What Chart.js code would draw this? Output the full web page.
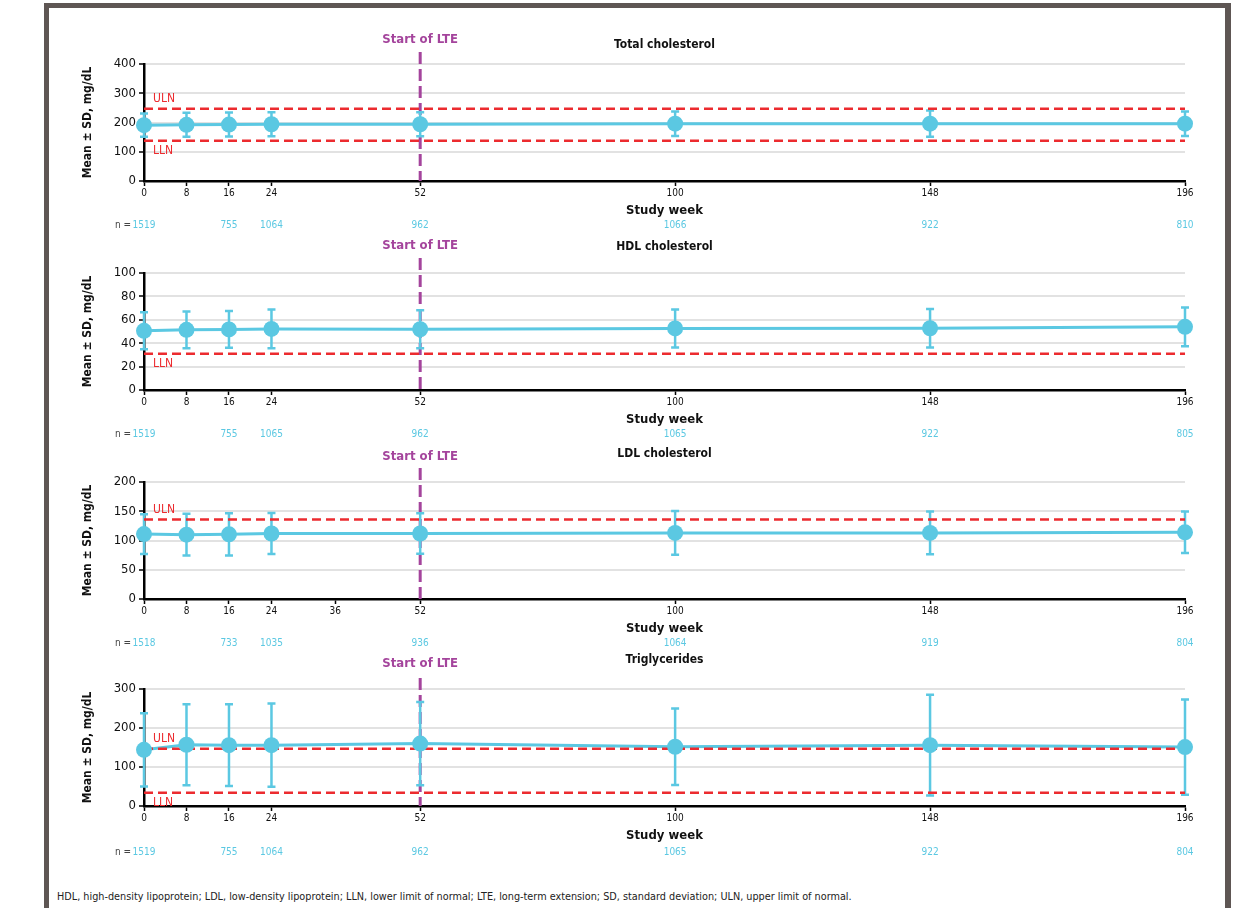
<!DOCTYPE html>
<html>
<head>
<meta charset="utf-8">
<script src="https://cdn.jsdelivr.net/npm/chart.js@4"></script>
<style>
  body { margin: 0; background: #fff; font-family: "DejaVu Sans Condensed", "DejaVu Sans", sans-serif; }
  #frame { position: absolute; left: 44px; top: 3px; width: 1176px; height: 930px;
           border-top: 5px solid #5e5654; border-left: 5px solid #5e5654; border-right: 6px solid #5e5654; }
  canvas { position: absolute; }
  #foot { position: absolute; left: 57px; top: 891px; font-family: "DejaVu Sans", sans-serif; font-size: 9.7px; color: #222; white-space: nowrap; }
</style>
</head>
<body>
<div id="frame"></div>
<canvas id="tcChart" style="left:50px;top:24px"></canvas>
<canvas id="hdlChart" style="left:50px;top:233px"></canvas>
<canvas id="ldlChart" style="left:50px;top:442px"></canvas>
<canvas id="tgChart" style="left:50px;top:649px"></canvas>
<div id="foot">HDL, high-density lipoprotein; LDL, low-density lipoprotein; LLN, lower limit of normal; LTE, long-term extension; SD, standard deviation; ULN, upper limit of normal.</div>
<script>
// study weeks (same for every panel)
const weeks = [0, 8, 16, 24, 52, 100, 148, 196];
const lteWeek = 52;
const weekTicks = [0, 8, 16, 24, 52, 100, 148, 196];
const ldlWeekTicks = [0, 8, 16, 24, 36, 52, 100, 148, 196];

// total cholesterol
const tcMean = [191, 192, 193, 194, 194, 196, 196, 196];
const tcSd = [40, 41, 41, 41, 41, 42, 45, 42];
const tcN = [1519, null, 755, 1064, 962, 1066, 922, 810];
const tcUln = 247, tcLln = 138;

// HDL cholesterol
const hdlMean = [50.6, 51.4, 51.8, 52.2, 51.9, 52.6, 52.8, 54.0];
const hdlSd = [15.8, 15.8, 15.7, 16.5, 16.2, 16.3, 16.4, 16.5];
const hdlN = [1519, null, 755, 1065, 962, 1065, 922, 805];
const hdlLln = 31;

// LDL cholesterol
const ldlMean = [111, 110, 110.5, 112, 112, 113, 113, 114];
const ldlSd = [34, 35.6, 36, 35, 34.5, 37.3, 36.5, 35.4];
const ldlN = [1518, null, 733, 1035, 936, 1064, 919, 804];
const ldlUln = 136;

// triglycerides
const tgMean = [144, 157, 156, 156, 160, 152, 156, 151];
const tgSd = [94, 104, 105, 106.6, 106.5, 98, 129, 122];
const tgN = [1519, null, 755, 1064, 962, 1065, 922, 804];
const tgUln = 147, tgLln = 34;

const CYAN = '#5bc8e2';
const RED = '#ec2b2f';
const PURPLE = '#a4449c';
const FONT = '"DejaVu Sans Condensed", "DejaVu Sans", sans-serif';

// 绘制误差线、LTE 竖线及各类文字
function makeDecor(cfg) {
    return {
        id: 'decor',
        beforeDatasetsDraw(chart) {
            const { ctx, chartArea, scales: { x, y } } = chart;
            const lx = x.getPixelForValue(lteWeek);
            ctx.save();
            ctx.strokeStyle = PURPLE;
            ctx.lineWidth = 3;
            ctx.setLineDash([12, 5]);
            ctx.beginPath();
            ctx.moveTo(lx, chartArea.top - cfg.lineTop);
            ctx.lineTo(lx, chartArea.bottom);
            ctx.stroke();

            ctx.setLineDash([]);
            ctx.strokeStyle = CYAN;
            ctx.lineWidth = 2.5;
            weeks.forEach((w, i) => {
                const px = x.getPixelForValue(w);
                const top = y.getPixelForValue(cfg.mean[i] + cfg.sd[i]);
                const bot = y.getPixelForValue(cfg.mean[i] - cfg.sd[i]);
                ctx.beginPath();
                ctx.moveTo(px, top); ctx.lineTo(px, bot);
                ctx.moveTo(px - 4, top); ctx.lineTo(px + 4, top);
                ctx.moveTo(px - 4, bot); ctx.lineTo(px + 4, bot);
                ctx.stroke();
            });
            ctx.restore();
        },
        afterDraw(chart) {
            const { ctx, chartArea, scales: { x, y } } = chart;
            const cx = (chartArea.left + chartArea.right) / 2;
            ctx.save();
            ctx.textBaseline = 'middle';
            ctx.textAlign = 'center';

            // 标题
            ctx.fillStyle = '#111';
            ctx.font = 'bold 12px ' + FONT;
            ctx.fillText(cfg.title, cx, chartArea.top - cfg.titleDy);
            ctx.fillStyle = PURPLE;
            ctx.font = 'bold 13px ' + FONT;
            ctx.fillText('Start of LTE', x.getPixelForValue(lteWeek), chartArea.top - cfg.lteDy);

            // x 轴标题
            ctx.fillStyle = '#111';
            ctx.font = 'bold 13px ' + FONT;
            ctx.fillText('Study week', cx, chartArea.bottom + 30);

            // y 轴标题
            ctx.save();
            ctx.translate(chartArea.left - 56, (chartArea.top + chartArea.bottom) / 2);
            ctx.rotate(-Math.PI / 2);
            ctx.font = 'bold 12px ' + FONT;
            ctx.fillText('Mean ± SD, mg/dL', 0, 0);
            ctx.restore();

            // n 行
            const ny = chartArea.bottom + cfg.nDy;
            ctx.font = '10px ' + FONT;
            ctx.textAlign = 'right';
            ctx.fillStyle = '#444';
            ctx.fillText('n =', chartArea.left - 13, ny);
            ctx.textAlign = 'center';
            ctx.fillStyle = CYAN;
            weeks.forEach((w, i) => {
                if (cfg.n[i] !== null) ctx.fillText(String(cfg.n[i]), x.getPixelForValue(w), ny);
            });

            // ULN / LLN 标签
            ctx.font = '12px ' + FONT;
            ctx.fillStyle = RED;
            ctx.textAlign = 'left';
            if (cfg.uln !== null) ctx.fillText('ULN', chartArea.left + 9, y.getPixelForValue(cfg.uln) - 10);
            if (cfg.lln !== null) ctx.fillText('LLN', chartArea.left + 9, y.getPixelForValue(cfg.lln) + 10);
            ctx.restore();
        }
    };
}

function limitLine(value) {
    return {
        data: [{ x: 0, y: value }, { x: 196, y: value }],
        borderColor: RED,
        borderWidth: 2.5,
        borderDash: [9, 5],
        pointRadius: 0,
        clip: false,
        order: 2
    };
}

function makePanel(id, cfg) {
    const canvas = document.getElementById(id);
    canvas.width = 1170;
    canvas.height = 225;
    canvas.style.width = '1170px';
    canvas.style.height = '225px';
    const pts = weeks.map((w, i) => ({ x: w, y: cfg.mean[i] }));
    const datasets = [
        { data: pts, showLine: false, pointRadius: 8, pointHoverRadius: 8, pointBackgroundColor: CYAN, pointBorderWidth: 0, clip: false, order: 1 },
        { data: pts, borderColor: CYAN, borderWidth: 3, pointRadius: 0, clip: false, order: 3 }
    ];
    if (cfg.uln !== null) datasets.push(limitLine(cfg.uln));
    if (cfg.lln !== null) datasets.push(limitLine(cfg.lln));

    return new Chart(canvas, {
        type: 'line',
        data: { datasets },
        options: {
            responsive: false,
            animation: false,
            layout: { padding: { top: 40, right: 35, bottom: 48, left: 0 } },
            plugins: { legend: { display: false }, tooltip: { enabled: false } },
            scales: {
                x: {
                    type: 'linear', min: 0, max: 196,
                    afterBuildTicks: axis => { axis.ticks = cfg.ticks.map(v => ({ value: v })); },
                    afterFit: axis => { axis.height = 20; },
                    ticks: { autoSkip: false, maxRotation: 0, padding: 1, color: '#111', font: { size: 10, family: FONT } },
                    grid: { drawOnChartArea: false, tickLength: 5, tickColor: '#000', tickWidth: 1.5 },
                    border: { color: '#000', width: 2.5 }
                },
                y: {
                    min: 0, max: cfg.max,
                    afterFit: axis => { axis.width = 94; },
                    ticks: { stepSize: cfg.step, padding: 3, color: '#111', font: { size: 13, family: FONT } },
                    grid: { color: '#e2e2e2', lineWidth: 2, tickLength: 5, tickColor: '#000', tickWidth: 1.5 },
                    border: { color: '#000', width: 2.5 }
                }
            }
        },
        plugins: [makeDecor(cfg)]
    });
}

makePanel('tcChart', { title: 'Total cholesterol', mean: tcMean, sd: tcSd, n: tcN, uln: tcUln, lln: tcLln,
    max: 400, step: 100, ticks: weekTicks, titleDy: 19, lteDy: 24, lineTop: 12, nDy: 44 });
makePanel('hdlChart', { title: 'HDL cholesterol', mean: hdlMean, sd: hdlSd, n: hdlN, uln: null, lln: hdlLln,
    max: 100, step: 20, ticks: weekTicks, titleDy: 26, lteDy: 27, lineTop: 15, nDy: 44 });
makePanel('ldlChart', { title: 'LDL cholesterol', mean: ldlMean, sd: ldlSd, n: ldlN, uln: ldlUln, lln: null,
    max: 200, step: 50, ticks: ldlWeekTicks, titleDy: 28, lteDy: 25, lineTop: 14, nDy: 44 });
makePanel('tgChart', { title: 'Triglycerides', mean: tgMean, sd: tgSd, n: tgN, uln: tgUln, lln: tgLln,
    max: 300, step: 100, ticks: weekTicks, titleDy: 29, lteDy: 25, lineTop: 11, nDy: 46 });
</script>
</body>
</html>
